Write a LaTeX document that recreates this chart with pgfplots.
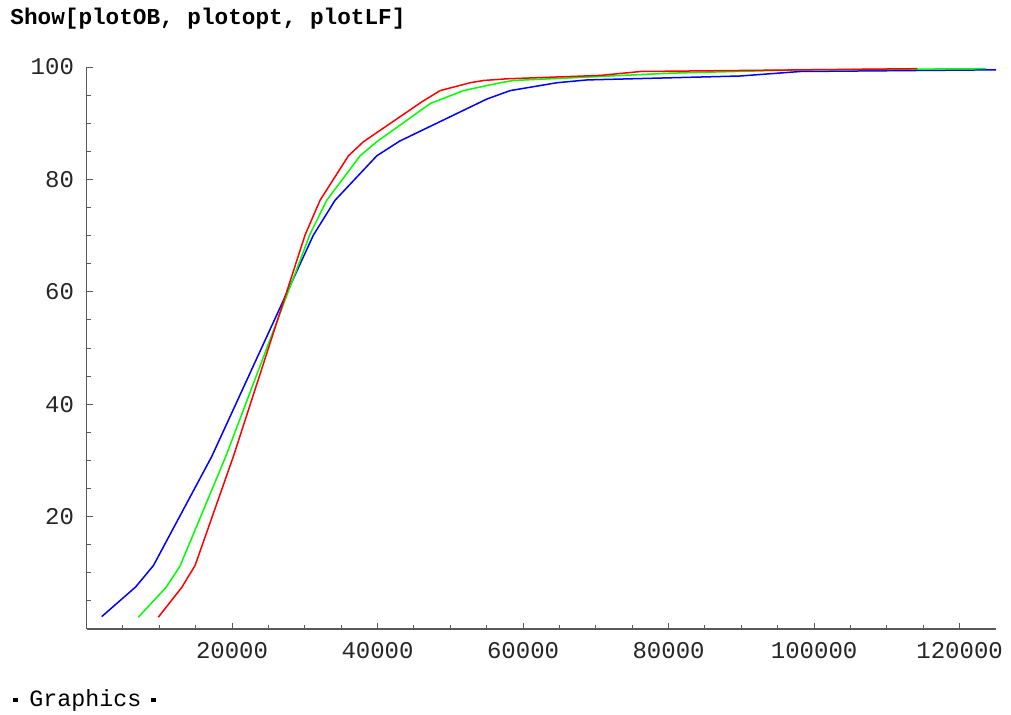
\documentclass[border=0pt]{standalone}
\usepackage{fontspec}
\setmainfont{Liberation Mono}
\usepackage{pgfplots}
\pgfplotsset{compat=1.18}
\begin{document}
\begin{tikzpicture}[x=1pt,y=1pt]
\useasboundingbox (0,0) rectangle (505.5,357);
\node[anchor=base west, inner sep=0] at (5,344.5) {\fontsize{11.35}{13}\selectfont\bfseries Show[plotOB, plotopt, plotLF]};
\node[anchor=base west, inner sep=0] at (6.5,4) {\fontsize{11.67}{14}\selectfont\rule[2pt]{2.5pt}{2pt}\hspace{5.5pt}Graphics\hspace{5pt}\rule[2pt]{2.5pt}{2pt}};
\begin{axis}[
  at={(43.25pt,42.5pt)}, anchor=south west,
  scale only axis, width=454.75pt, height=281pt,
  xmin=0, xmax=125000, ymin=0, ymax=100,
  axis lines=left, axis line style={-, draw=black!65, line width=0.6pt},
  tick align=inside,
  major tick length=3pt, minor tick length=2pt,
  every tick/.style={black!65, line width=0.5pt},
  xtick={20000,40000,60000,80000,100000,120000},
  xticklabels={20000,40000,60000,80000,100000,120000},
  ytick={20,40,60,80,100}, yticklabels={20,40,60,80,100},
  minor xtick={5000,10000,...,115000}, minor ytick={5,10,...,95},
  scaled x ticks=false, scaled y ticks=false,
  tick label style={font=\fontsize{12}{14}\selectfont, text=black!85},
  xticklabel style={yshift=-3pt},
  yticklabel style={xshift=-2.75pt},
  clip=false,
]
\addplot[blue, line width=0.75pt] coordinates {
(2090,2.2) (6765,7.5) (9200,11.3) (17215,30.7) (31185,70.1) (34170,76.3) (39900,84.2) (43020,86.8) (55025,94.3) (58230,95.8) (64650,97.2) (68800,97.7) (89850,98.4) (98100,99.2) (125000,99.5)
};
\addplot[green, line width=0.75pt] coordinates {
(7120,2.1) (10930,7.4) (12855,11.2) (19140,30.7) (30730,70.3) (33025,76.3) (37605,84.2) (39900,86.7) (47240,93.5) (51810,95.8) (56850,97.2) (58680,97.6) (70330,98.3) (80230,98.9) (98100,99.5) (123630,99.7)
};
\addplot[red, line width=0.75pt] coordinates {
(9870,2.1) (13090,7.4) (14920,11.3) (20185,30.7) (30040,70.1) (32105,76.3) (36000,84.2) (38060,86.7) (46090,93.8) (48600,95.8) (52730,97.2) (54560,97.6) (57780,97.9) (70600,98.5) (76150,99.2) (114190,99.7)
};
\end{axis}
\end{tikzpicture}
\end{document}
